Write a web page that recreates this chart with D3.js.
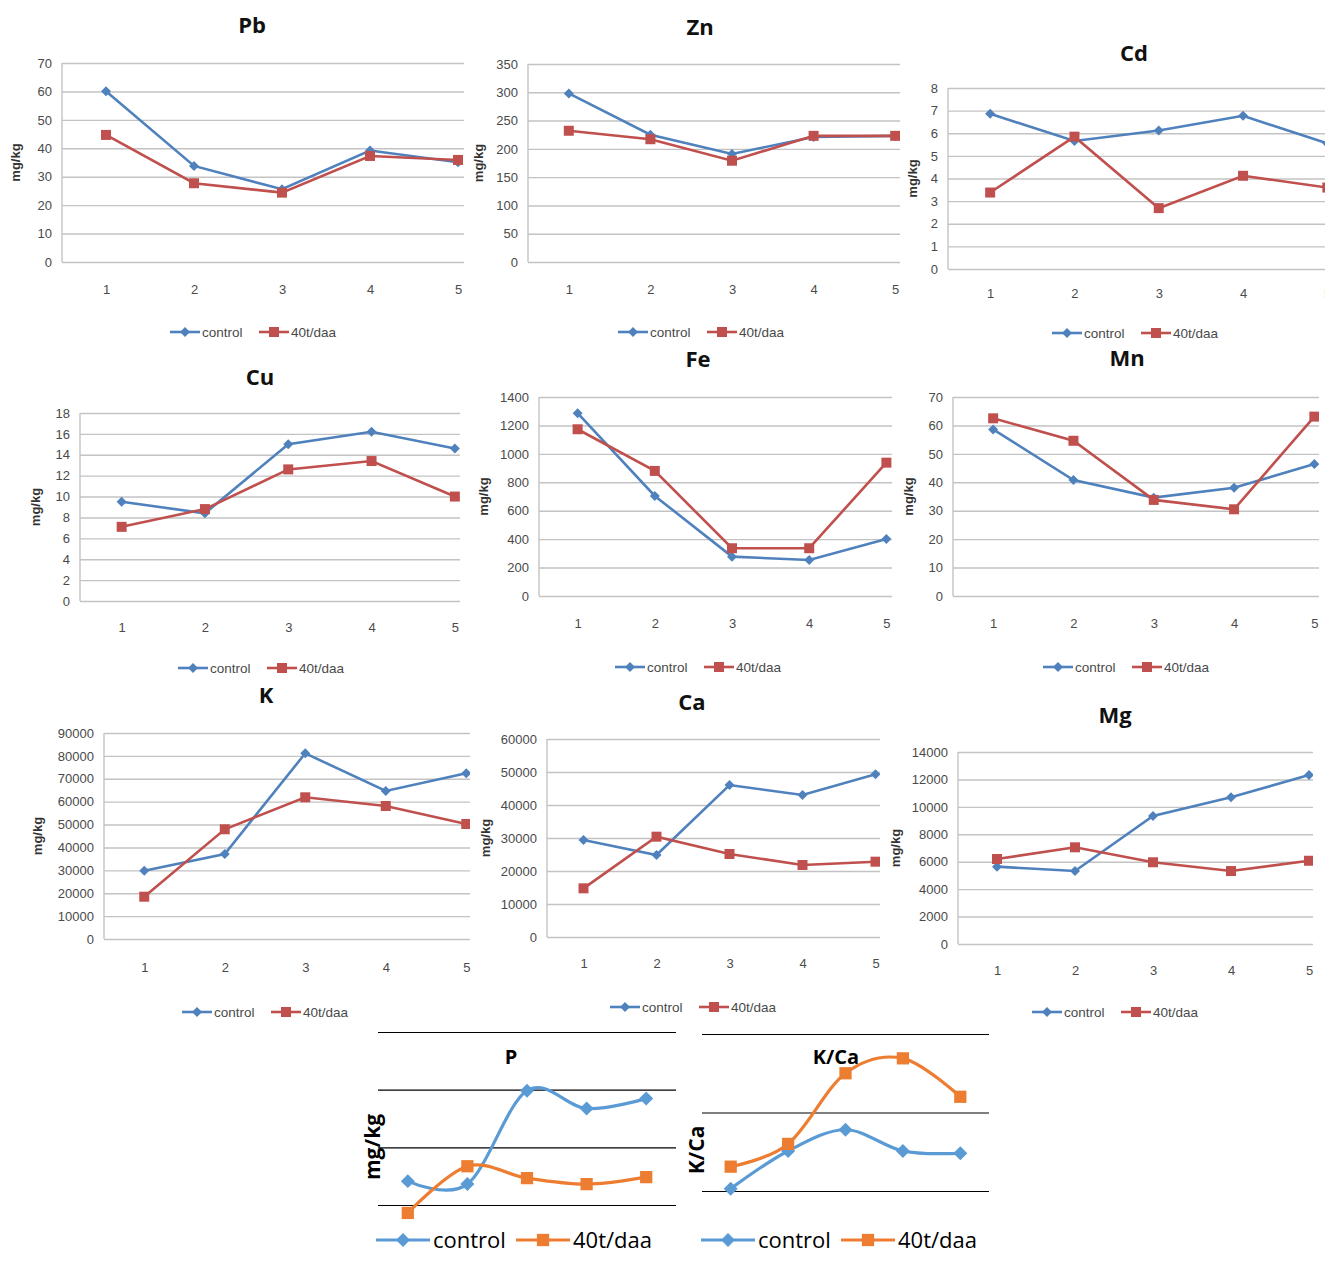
<!DOCTYPE html>
<html>
<head>
<meta charset="utf-8">
<script src="https://cdn.jsdelivr.net/npm/d3@7"></script>
<style>
  body { margin: 0; background: #fff; }
  svg { display: block; }
</style>
</head>
<body>
<div id="container"></div>
<script>
// sampling sites on the x axis
const sites = [1, 2, 3, 4, 5];
const seriesNames = ['control', '40t/daa'];

// values, mg/kg
const pbControl = [60.1, 33.8, 25.6, 39.2, 35.1];
const pbTreated = [44.7, 27.7, 24.4, 37.3, 35.9];
const pbTicks = [0, 10, 20, 30, 40, 50, 60, 70];

const znControl = [298, 225, 191, 221, 223];
const znTreated = [232, 217, 179, 223, 223];
const znTicks = [0, 50, 100, 150, 200, 250, 300, 350];

const cdControl = [6.86, 5.66, 6.12, 6.77, 5.55];
const cdTreated = [3.38, 5.85, 2.69, 4.12, 3.6];
const cdTicks = [0, 1, 2, 3, 4, 5, 6, 7, 8];

const cuControl = [9.5, 8.4, 15.0, 16.2, 14.6];
const cuTreated = [7.1, 8.8, 12.6, 13.4, 10.0];
const cuTicks = [0, 2, 4, 6, 8, 10, 12, 14, 16, 18];

const feControl = [1286, 704, 277, 253, 401];
const feTreated = [1173, 880, 336, 336, 938];
const feTicks = [0, 200, 400, 600, 800, 1000, 1200, 1400];

const mnControl = [58.6, 40.8, 34.6, 38.1, 46.4];
const mnTreated = [62.5, 54.6, 33.8, 30.5, 63.1];
const mnTicks = [0, 10, 20, 30, 40, 50, 60, 70];

const kControl = [29840, 37140, 81130, 64660, 72400];
const kTreated = [18480, 47930, 61910, 58110, 50240];
const kTicks = [0, 10000, 20000, 30000, 40000, 50000, 60000, 70000, 80000, 90000];

const caControl = [29390, 24850, 46060, 43030, 49300];
const caTreated = [14750, 30400, 25150, 21820, 22820];
const caTicks = [0, 10000, 20000, 30000, 40000, 50000, 60000];

const mgControl = [5640, 5320, 9330, 10700, 12320];
const mgTreated = [6200, 7050, 5960, 5320, 6070];
const mgTicks = [0, 2000, 4000, 6000, 8000, 10000, 12000, 14000];

// bottom two charts have no tick labels, only gridlines
const pControl = [1414, 1362, 2983, 2672, 2845];
const pTreated = [862, 1672, 1466, 1362, 1483];
const pGrid = [1000, 2000, 3000, 4000];

const kcaControl = [1.03, 1.51, 1.78, 1.51, 1.48];
const kcaTreated = [1.31, 1.6, 2.5, 2.69, 2.2];
const kcaGrid = [1, 2, 3];

const blue = '#4F81BD';
const red = '#C0504D';
const blue2 = '#5B9BD5';
const orange = '#ED7D31';
const smallFont = "'Liberation Sans', Arial, sans-serif";
const titleFont = "'Open Sans', 'Liberation Sans', sans-serif";

const panels = [
  { title: 'Pb', c: pbControl, t: pbTreated, ticks: pbTicks, left: 62, top: 63, bottom: 262, step: 88, clip: 464, tx: 252, ty: 25, ylx: 15, xly: 289, lx: 255, ly: 332 },
  { title: 'Zn', c: znControl, t: znTreated, ticks: znTicks, left: 528, top: 64, bottom: 262, step: 81.6, clip: 900, tx: 700, ty: 27, ylx: 478, xly: 289, lx: 703, ly: 332 },
  { title: 'Cd', c: cdControl, t: cdTreated, ticks: cdTicks, left: 948, top: 88, bottom: 269, step: 84.3, clip: 1325, tx: 1134, ty: 53, ylx: 912, xly: 293, lx: 1137, ly: 333 },
  { title: 'Cu', c: cuControl, t: cuTreated, ticks: cuTicks, left: 80, top: 413, bottom: 601, step: 83.3, clip: 460, tx: 260, ty: 377, ylx: 35, xly: 627, lx: 263, ly: 668 },
  { title: 'Fe', c: feControl, t: feTreated, ticks: feTicks, left: 539, top: 397, bottom: 596, step: 77.2, clip: 892, tx: 698, ty: 359, ylx: 483, xly: 623, lx: 700, ly: 667 },
  { title: 'Mn', c: mnControl, t: mnTreated, ticks: mnTicks, left: 953, top: 397, bottom: 596, step: 80.3, clip: 1319, tx: 1127, ty: 358, ylx: 908, xly: 623, lx: 1128, ly: 667 },
  { title: 'K', c: kControl, t: kTreated, ticks: kTicks, left: 104, top: 733, bottom: 939, step: 80.5, clip: 470, tx: 266, ty: 695, ylx: 37, xly: 967, lx: 267, ly: 1012 },
  { title: 'Ca', c: caControl, t: caTreated, ticks: caTicks, left: 547, top: 739, bottom: 937, step: 73, clip: 880, tx: 692, ty: 702, ylx: 485, xly: 963, lx: 695, ly: 1007 },
  { title: 'Mg', c: mgControl, t: mgTreated, ticks: mgTicks, left: 958, top: 752, bottom: 944, step: 78, clip: 1313, tx: 1115, ty: 715, ylx: 895, xly: 970, lx: 1117, ly: 1012 },
];

const svg = d3.select('#container')
  .append('svg')
  .attr('width', 1325)
  .attr('height', 1261);
const defs = svg.append('defs');

// diamond = square turned 45 degrees, like the spreadsheet markers
function marker(sel, kind, sz) {
  return sel.append('path')
    .attr('d', d3.symbol(d3.symbolSquare, sz)());
}

panels.forEach((p, idx) => {
  const g = svg.append('g');
  const x = d3.scalePoint().domain(sites).range([p.left, p.left + 5 * p.step]).padding(0.5);
  const y = d3.scaleLinear().domain([0, d3.max(p.ticks)]).range([p.bottom, p.top]);

  defs.append('clipPath').attr('id', 'clip' + idx)
    .append('rect')
    .attr('x', p.left - 10).attr('y', p.top - 10)
    .attr('width', p.clip - p.left + 10).attr('height', p.bottom - p.top + 20);

  const plot = g.append('g').attr('clip-path', `url(#clip${idx})`);

  // gridlines
  plot.append('g')
    .attr('transform', `translate(${p.left},0)`)
    .call(d3.axisLeft(y).tickValues(p.ticks).tickSize(-(5 * p.step)).tickFormat(''))
    .call(s => s.select('.domain').remove())
    .selectAll('line')
    .attr('stroke', '#c3c3c3')
    .attr('stroke-width', 1.4);

  plot.append('line')
    .attr('x1', p.left).attr('x2', p.left)
    .attr('y1', p.top).attr('y2', p.bottom)
    .attr('stroke', '#c3c3c3').attr('stroke-width', 1.4);

  // tick labels
  const yLab = g.append('g')
    .attr('transform', `translate(${p.left},0)`)
    .call(d3.axisLeft(y).tickValues(p.ticks).tickSize(0).tickPadding(10).tickFormat(d3.format('d')))
    .call(s => s.select('.domain').remove());
  yLab.selectAll('line').remove();
  yLab.selectAll('text')
    .attr('font-family', smallFont).attr('font-size', 13).attr('fill', '#4a4a4a');

  const xLab = g.append('g')
    .attr('transform', `translate(0,${p.xly})`)
    .call(d3.axisBottom(x).tickSize(0).tickPadding(0))
    .call(s => s.select('.domain').remove());
  xLab.selectAll('line').remove();
  xLab.selectAll('text')
    .attr('y', 0).attr('dy', '0.35em')
    .attr('font-family', smallFont).attr('font-size', 13).attr('fill', '#4a4a4a');

  // title and axis name
  g.append('text')
    .attr('x', p.tx).attr('y', p.ty).attr('dy', '0.35em')
    .attr('text-anchor', 'middle')
    .attr('font-family', titleFont).attr('font-weight', 'bold').attr('font-size', 22)
    .attr('fill', '#111')
    .text(p.title);

  g.append('text')
    .attr('transform', `translate(${p.ylx},${(p.top + p.bottom) / 2}) rotate(-90)`)
    .attr('dy', '0.35em')
    .attr('text-anchor', 'middle')
    .attr('font-family', smallFont).attr('font-weight', 'bold').attr('font-size', 13)
    .attr('fill', '#333')
    .text('mg/kg');

  // series
  const line = d3.line().x((d, i) => x(sites[i])).y(d => y(d));
  [[p.c, blue, 'd'], [p.t, red, 's']].forEach(([vals, col, kind]) => {
    plot.append('path')
      .datum(vals)
      .attr('d', line)
      .attr('fill', 'none')
      .attr('stroke', col)
      .attr('stroke-width', 2.6);
    vals.forEach((v, i) => {
      marker(plot, kind, kind === 'd' ? 50 : 100)
        .attr('transform', `translate(${x(sites[i])},${y(v)})` + (kind === 'd' ? ' rotate(45)' : ''))
        .attr('fill', col);
    });
  });

  // legend
  const leg = g.append('g').attr('transform', `translate(${p.lx - 85},${p.ly})`);
  [[0, blue, 'd', seriesNames[0]], [89, red, 's', seriesNames[1]]].forEach(([off, col, kind, name]) => {
    leg.append('line').attr('x1', off).attr('x2', off + 30).attr('stroke', col).attr('stroke-width', 2.6);
    marker(leg, kind, kind === 'd' ? 50 : 100)
      .attr('transform', `translate(${off + 15},0)` + (kind === 'd' ? ' rotate(45)' : ''))
      .attr('fill', col);
    leg.append('text')
      .attr('x', off + 32).attr('dy', '0.35em')
      .attr('font-family', smallFont).attr('font-size', 13.5).attr('fill', '#4a4a4a')
      .text(name);
  });
});

// bottom charts: P and K/Ca (smoothed lines, black gridlines)
const bottomPanels = [
  { title: 'P', yName: 'mg/kg', c: pControl, t: pTreated, grid: pGrid, dom: [1000, 4000], rng: [1205, 1032], x0: 378, x1: 676, tx: 511, ylx: 373, yly: 1147, lx: 376 },
  { title: 'K/Ca', yName: 'K/Ca', c: kcaControl, t: kcaTreated, grid: kcaGrid, dom: [1, 3], rng: [1191, 1034], x0: 702, x1: 989, tx: 836, ylx: 697, yly: 1150, lx: 701 },
];

bottomPanels.forEach(p => {
  const g = svg.append('g');
  const x = d3.scalePoint().domain(sites).range([p.x0, p.x1]).padding(0.5);
  const y = d3.scaleLinear().domain(p.dom).range(p.rng);

  g.append('g')
    .attr('transform', `translate(${p.x0},0)`)
    .call(d3.axisLeft(y).tickValues(p.grid).tickSize(-(p.x1 - p.x0)).tickFormat(''))
    .call(s => s.select('.domain').remove())
    .selectAll('line')
    .attr('stroke', '#000')
    .attr('stroke-width', 1.1);

  g.append('text')
    .attr('x', p.tx).attr('y', 1057).attr('dy', '0.35em')
    .attr('text-anchor', 'middle')
    .attr('font-family', titleFont).attr('font-weight', 'bold').attr('font-size', 20)
    .attr('fill', '#000')
    .text(p.title);

  g.append('text')
    .attr('transform', `translate(${p.ylx},${p.yly}) rotate(-90)`)
    .attr('dy', '0.35em')
    .attr('text-anchor', 'middle')
    .attr('font-family', titleFont).attr('font-weight', 'bold').attr('font-size', 21)
    .attr('fill', '#000')
    .text(p.yName);

  const line = d3.line().x((d, i) => x(sites[i])).y(d => y(d)).curve(d3.curveCardinal.tension(0));
  [[p.c, blue2, 'd'], [p.t, orange, 's']].forEach(([vals, col, kind]) => {
    g.append('path')
      .datum(vals)
      .attr('d', line)
      .attr('fill', 'none')
      .attr('stroke', col)
      .attr('stroke-width', 3.2);
    vals.forEach((v, i) => {
      marker(g, kind, kind === 'd' ? 98 : 150)
        .attr('transform', `translate(${x(sites[i])},${y(v)})` + (kind === 'd' ? ' rotate(45)' : ''))
        .attr('fill', col);
    });
  });

  const leg = g.append('g').attr('transform', `translate(${p.lx},1240)`);
  [[0, blue2, 'd', seriesNames[0]], [140, orange, 's', seriesNames[1]]].forEach(([off, col, kind, name]) => {
    leg.append('line').attr('x1', off).attr('x2', off + 54).attr('stroke', col).attr('stroke-width', 3.2);
    marker(leg, kind, kind === 'd' ? 98 : 150)
      .attr('transform', `translate(${off + 27},0)` + (kind === 'd' ? ' rotate(45)' : ''))
      .attr('fill', col);
    leg.append('text')
      .attr('x', off + 57).attr('dy', '0.35em')
      .attr('font-family', titleFont).attr('font-size', 22).attr('fill', '#000')
      .text(name);
  });
});
</script>
</body>
</html>
